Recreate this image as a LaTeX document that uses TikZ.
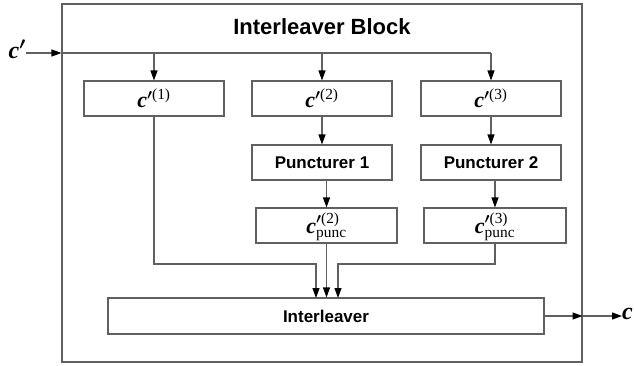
\documentclass[tikz,border=0pt]{standalone}
\usepackage{amsmath}
\usepackage{fontspec}
\setmainfont{Liberation Serif}
\setsansfont{Liberation Sans}
\usetikzlibrary{arrows.meta}
\definecolor{ln}{HTML}{606060}
\newcommand\cbold{\text{\bfseries\itshape c}}
\newcommand\bpr{\boldsymbol{\prime}}
\begin{document}
\begin{tikzpicture}[x=1pt,y=-1pt,
  line/.style={draw=ln, line width=1.1pt},
  arr/.style={line, -{Triangle[length=10pt,width=7pt,color=black]}},
  blk/.style={draw=ln, line width=1.1pt, minimum height=35pt, inner sep=0pt, fill=white},
  lbl/.style={font=\sffamily\bfseries\fontsize{17}{20}\selectfont},
  mth/.style={font=\fontsize{22}{26}\selectfont, inner sep=0pt}]
\useasboundingbox (0,0) rectangle (634,365);
\node[draw=ln, line width=1.1pt, minimum width=520pt, minimum height=358pt, inner sep=0pt] (outer) at (322,183) {};
\node[font=\sffamily\bfseries\fontsize{22}{26}\selectfont] (title) at (322,27) {Interleaver Block};
\node[blk, minimum width=140pt] (b1) at (154,98.5) {};
\node[mth] at (b1) {$\cbold^{\bpr\text{(1)}}$};
\node[blk, minimum width=140pt] (b2) at (322,98.5) {};
\node[mth] at (b2) {$\cbold^{\bpr\text{(2)}}$};
\node[blk, minimum width=140pt] (b3) at (491,98.5) {};
\node[mth] at (b3) {$\cbold^{\bpr\text{(3)}}$};
\node[blk, lbl, minimum width=140pt] (p1) at (322,162.5) {Puncturer 1};
\node[blk, lbl, minimum width=140pt] (p2) at (491,162.5) {Puncturer 2};
\node[blk, minimum width=141pt] (q2) at (326.5,225.5) {};
\node[mth] at ([yshift=-1pt]q2) {$\cbold^{\bpr\text{(2)}}_{\text{punc}}$};
\node[blk, minimum width=142pt] (q3) at (495,225.5) {};
\node[mth] at ([yshift=-1pt]q3) {$\cbold^{\bpr\text{(3)}}_{\text{punc}}$};
\node[blk, lbl, minimum width=436pt, minimum height=36pt] (il) at (326,316) {Interleaver};
% input
\coordinate (inl) at (outer.west |- 0,53);
\node[mth, anchor=east, font=\fontsize{24}{28}\selectfont] (cin) at (26,49) {$\cbold^{\bpr}$};
\draw[arr] (cin.east |- inl) -- (inl);
\draw[line] (inl) -- (b3.north |- inl);
\draw[arr] (b1.north |- inl) -- (b1.north);
\draw[arr] (b2.north |- inl) -- (b2.north);
\draw[arr] (b3.north |- inl) -- (b3.north);
\draw[arr] (b2) -- (p1);
\draw[arr] (b3) -- (p2);
\draw[arr] (q2.north |- p1.south) -- (q2.north);
\draw[arr] (q3.north |- p2.south) -- (q3.north);
% to interleaver
\draw[arr] (b1.south) |- (316,264) -- (316,298);
\draw[arr] (q2.south) -- (q2.south |- il.north);
\draw[arr] (q3.south) |- (338,264) -- (338,298);
% output
\coordinate (outr) at (outer.east |- il.east);
\node[mth, anchor=west, font=\fontsize{24}{28}\selectfont] (cout) at (622,314) {$\cbold$};
\draw[arr] (il.east) -- (outr);
\draw[arr] (outr) -- (cout.west |- il.east);
\end{tikzpicture}
\end{document}
